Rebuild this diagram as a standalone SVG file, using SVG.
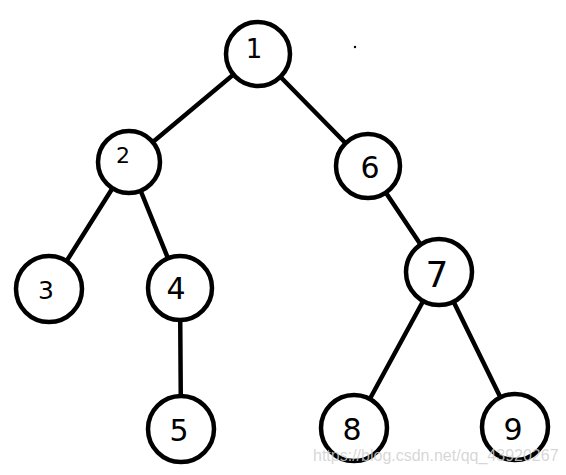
<svg xmlns="http://www.w3.org/2000/svg" width="566" height="475" viewBox="0 0 566 475">
<style>
.edge{stroke:#000;stroke-width:4.5;stroke-linecap:round;fill:none}
.node circle{fill:#fff;stroke:#000;stroke-width:4.5}
.node text{font-family:"DejaVu Sans","Liberation Sans",sans-serif;font-size:30px;fill:#000;text-anchor:middle}
.wm{font-family:"Liberation Sans",Arial,sans-serif;font-size:16px;fill:#cfcfcf;fill-opacity:0.85}
</style>
<rect width="566" height="475" fill="#fff"/>
<g id="connectors">
<line class="edge" x1="258" y1="54" x2="129" y2="162"/>
<line class="edge" x1="258" y1="54" x2="368" y2="166"/>
<line class="edge" x1="129" y1="162" x2="49" y2="289"/>
<line class="edge" x1="129" y1="162" x2="180" y2="288"/>
<line class="edge" x1="180" y1="288" x2="181" y2="429"/>
<line class="edge" x1="368" y1="166" x2="439" y2="272"/>
<line class="edge" x1="439" y1="272" x2="354" y2="428"/>
<line class="edge" x1="439" y1="272" x2="515" y2="427"/>
</g>
<g id="n1" class="node"><circle cx="258" cy="54" r="32"/><text x="254" y="58" style="font-size:26px">1</text></g>
<g id="n2" class="node"><circle cx="129" cy="162" r="31"/><text x="123" y="163" style="font-size:22px">2</text></g>
<g id="n6" class="node"><circle cx="368" cy="166" r="32"/><text x="370" y="178">6</text></g>
<g id="n3" class="node"><circle cx="49" cy="289" r="33"/><text x="46" y="299" style="font-size:25px">3</text></g>
<g id="n4" class="node"><circle cx="180" cy="288" r="32"/><text x="176" y="299">4</text></g>
<g id="n7" class="node"><circle cx="439" cy="272" r="33"/><text x="437" y="287" style="font-size:36px">7</text></g>
<g id="n5" class="node"><circle cx="181" cy="429" r="33"/><text x="179" y="441">5</text></g>
<g id="n8" class="node"><circle cx="354" cy="428" r="33"/><text x="352" y="440">8</text></g>
<g id="n9" class="node"><circle cx="515" cy="427" r="33"/><text x="513" y="440">9</text></g>
<circle cx="355" cy="47" r="1.2" fill="#000"/>
<text class="wm" x="313" y="461">https://blog.csdn.net/qq_43920267</text>
</svg>
